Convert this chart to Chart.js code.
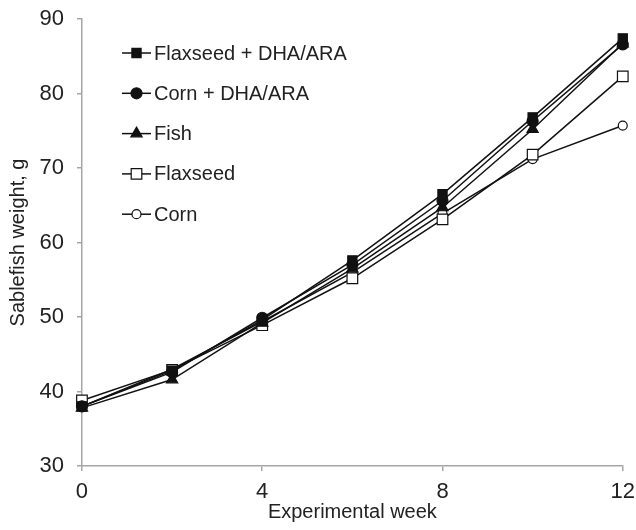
<!DOCTYPE html>
<html>
<head>
<meta charset="utf-8">
<script src="https://cdn.jsdelivr.net/npm/chart.js@4"></script>
<style>
  html, body { margin: 0; padding: 0; background: #fff; }
  #wrap { width: 636px; height: 530px; }
</style>
</head>
<body>
<div id="wrap"><canvas id="chart" width="636" height="530"></canvas></div>
<script>
// data
const weeks = [0, 2, 4, 6, 8, 10, 12];
const flaxDha = [38.0, 42.8, 49.6, 57.6, 66.5, 76.8, 87.4];
const cornDha = [38.0, 42.6, 49.9, 57.0, 65.6, 76.3, 86.6];
const fish = [37.8, 41.6, 49.2, 56.5, 64.7, 75.2, 86.7];
const flax = [38.8, 42.9, 48.9, 55.2, 63.1, 71.8, 82.3];
const corn = [38.0, 43.0, 49.4, 56.0, 63.9, 71.2, 75.7];
const seriesNames = ['Flaxseed + DHA/ARA', 'Corn + DHA/ARA', 'Fish', 'Flaxseed', 'Corn'];
const yTicks = [30, 40, 50, 60, 70, 80, 90];
const xTicks = [0, 4, 8, 12];

const fontFam = '"Liberation Sans", Arial, sans-serif';
const axisGray = '#a6a6a6';

// marker look per series
const markers = [
  { style: 'rect', radius: 6.5, fill: '#111' },
  { style: 'circle', radius: 5.5, fill: '#111' },
  { style: 'triangle', radius: 6.5, fill: '#111' },
  { style: 'rect', radius: 7.5, fill: '#fff' },
  { style: 'circle', radius: 4.5, fill: '#fff' }
];

const toPts = arr => arr.map((v, i) => ({ x: weeks[i], y: v }));
const allData = [flaxDha, cornDha, fish, flax, corn];

// lower order is drawn on top, so filled markers sit over the open ones
const datasets = allData.map((d, i) => ({
  label: seriesNames[i],
  data: toPts(d),
  borderColor: '#111',
  borderWidth: 1.5,
  pointStyle: markers[i].style,
  pointRadius: markers[i].radius,
  pointBackgroundColor: markers[i].fill,
  pointBorderColor: '#111',
  pointBorderWidth: 1.2,
  order: i,
  clip: false,
  tension: 0
}));

// legend drawn inside the plot area, top left
const insideLegend = {
  id: 'insideLegend',
  afterDraw(chart) {
    const ctx = chart.ctx;
    const x0 = 122, x1 = 151, y0 = 53, gap = 40.3;
    ctx.save();
    seriesNames.forEach((name, i) => {
      const y = y0 + i * gap;
      ctx.strokeStyle = '#111';
      ctx.lineWidth = 1.5;
      ctx.beginPath();
      ctx.moveTo(x0, y);
      ctx.lineTo(x1, y);
      ctx.stroke();
      ctx.fillStyle = markers[i].fill;
      ctx.strokeStyle = '#111';
      ctx.lineWidth = 1.2;
      Chart.helpers.drawPoint(ctx, {
        pointStyle: markers[i].style,
        radius: markers[i].radius,
        rotation: 0,
        borderWidth: 1.2
      }, (x0 + x1) / 2, y);
      ctx.fillStyle = '#222';
      ctx.font = '20px ' + fontFam;
      ctx.textBaseline = 'middle';
      ctx.textAlign = 'left';
      ctx.fillText(name, x1 + 3, y + 1);
    });
    ctx.restore();
  }
};

// the lineHeight / negative padding values below are only there to pin the
// plot box at the same place as in the figure (Chart.js pads ticks twice)
new Chart(document.getElementById('chart'), {
  type: 'line',
  data: { datasets: datasets },
  plugins: [insideLegend],
  options: {
    responsive: false,
    animation: false,
    layout: { padding: { top: 0, right: 2, left: 6, bottom: 6 } },
    plugins: {
      legend: { display: false },
      tooltip: { enabled: false }
    },
    scales: {
      x: {
        type: 'linear',
        min: 0,
        max: 12,
        afterBuildTicks: axis => { axis.ticks = xTicks.map(v => ({ value: v })); },
        grid: { drawOnChartArea: false, drawTicks: true, tickLength: 5, color: axisGray, lineWidth: 1.5 },
        border: { color: axisGray, width: 1.5 },
        ticks: { color: '#222', font: { size: 22, family: fontFam, lineHeight: 1.818 }, padding: 1, maxRotation: 0 },
        title: { display: true, text: 'Experimental week', color: '#222', font: { size: 20, family: fontFam }, padding: { top: -13, bottom: 0 } }
      },
      y: {
        min: 30,
        max: 90,
        afterBuildTicks: axis => { axis.ticks = yTicks.map(v => ({ value: v })); },
        grid: { drawOnChartArea: false, drawTicks: true, tickLength: 5, color: axisGray, lineWidth: 1.5 },
        border: { color: axisGray, width: 1.5 },
        ticks: { color: '#222', font: { size: 22, family: fontFam, lineHeight: 0.545 }, padding: 13 },
        title: { display: true, text: 'Sablefish weight, g', color: '#222', font: { size: 20, family: fontFam }, padding: { top: 0, bottom: -3.5 } }
      }
    }
  }
});
</script>
</body>
</html>
